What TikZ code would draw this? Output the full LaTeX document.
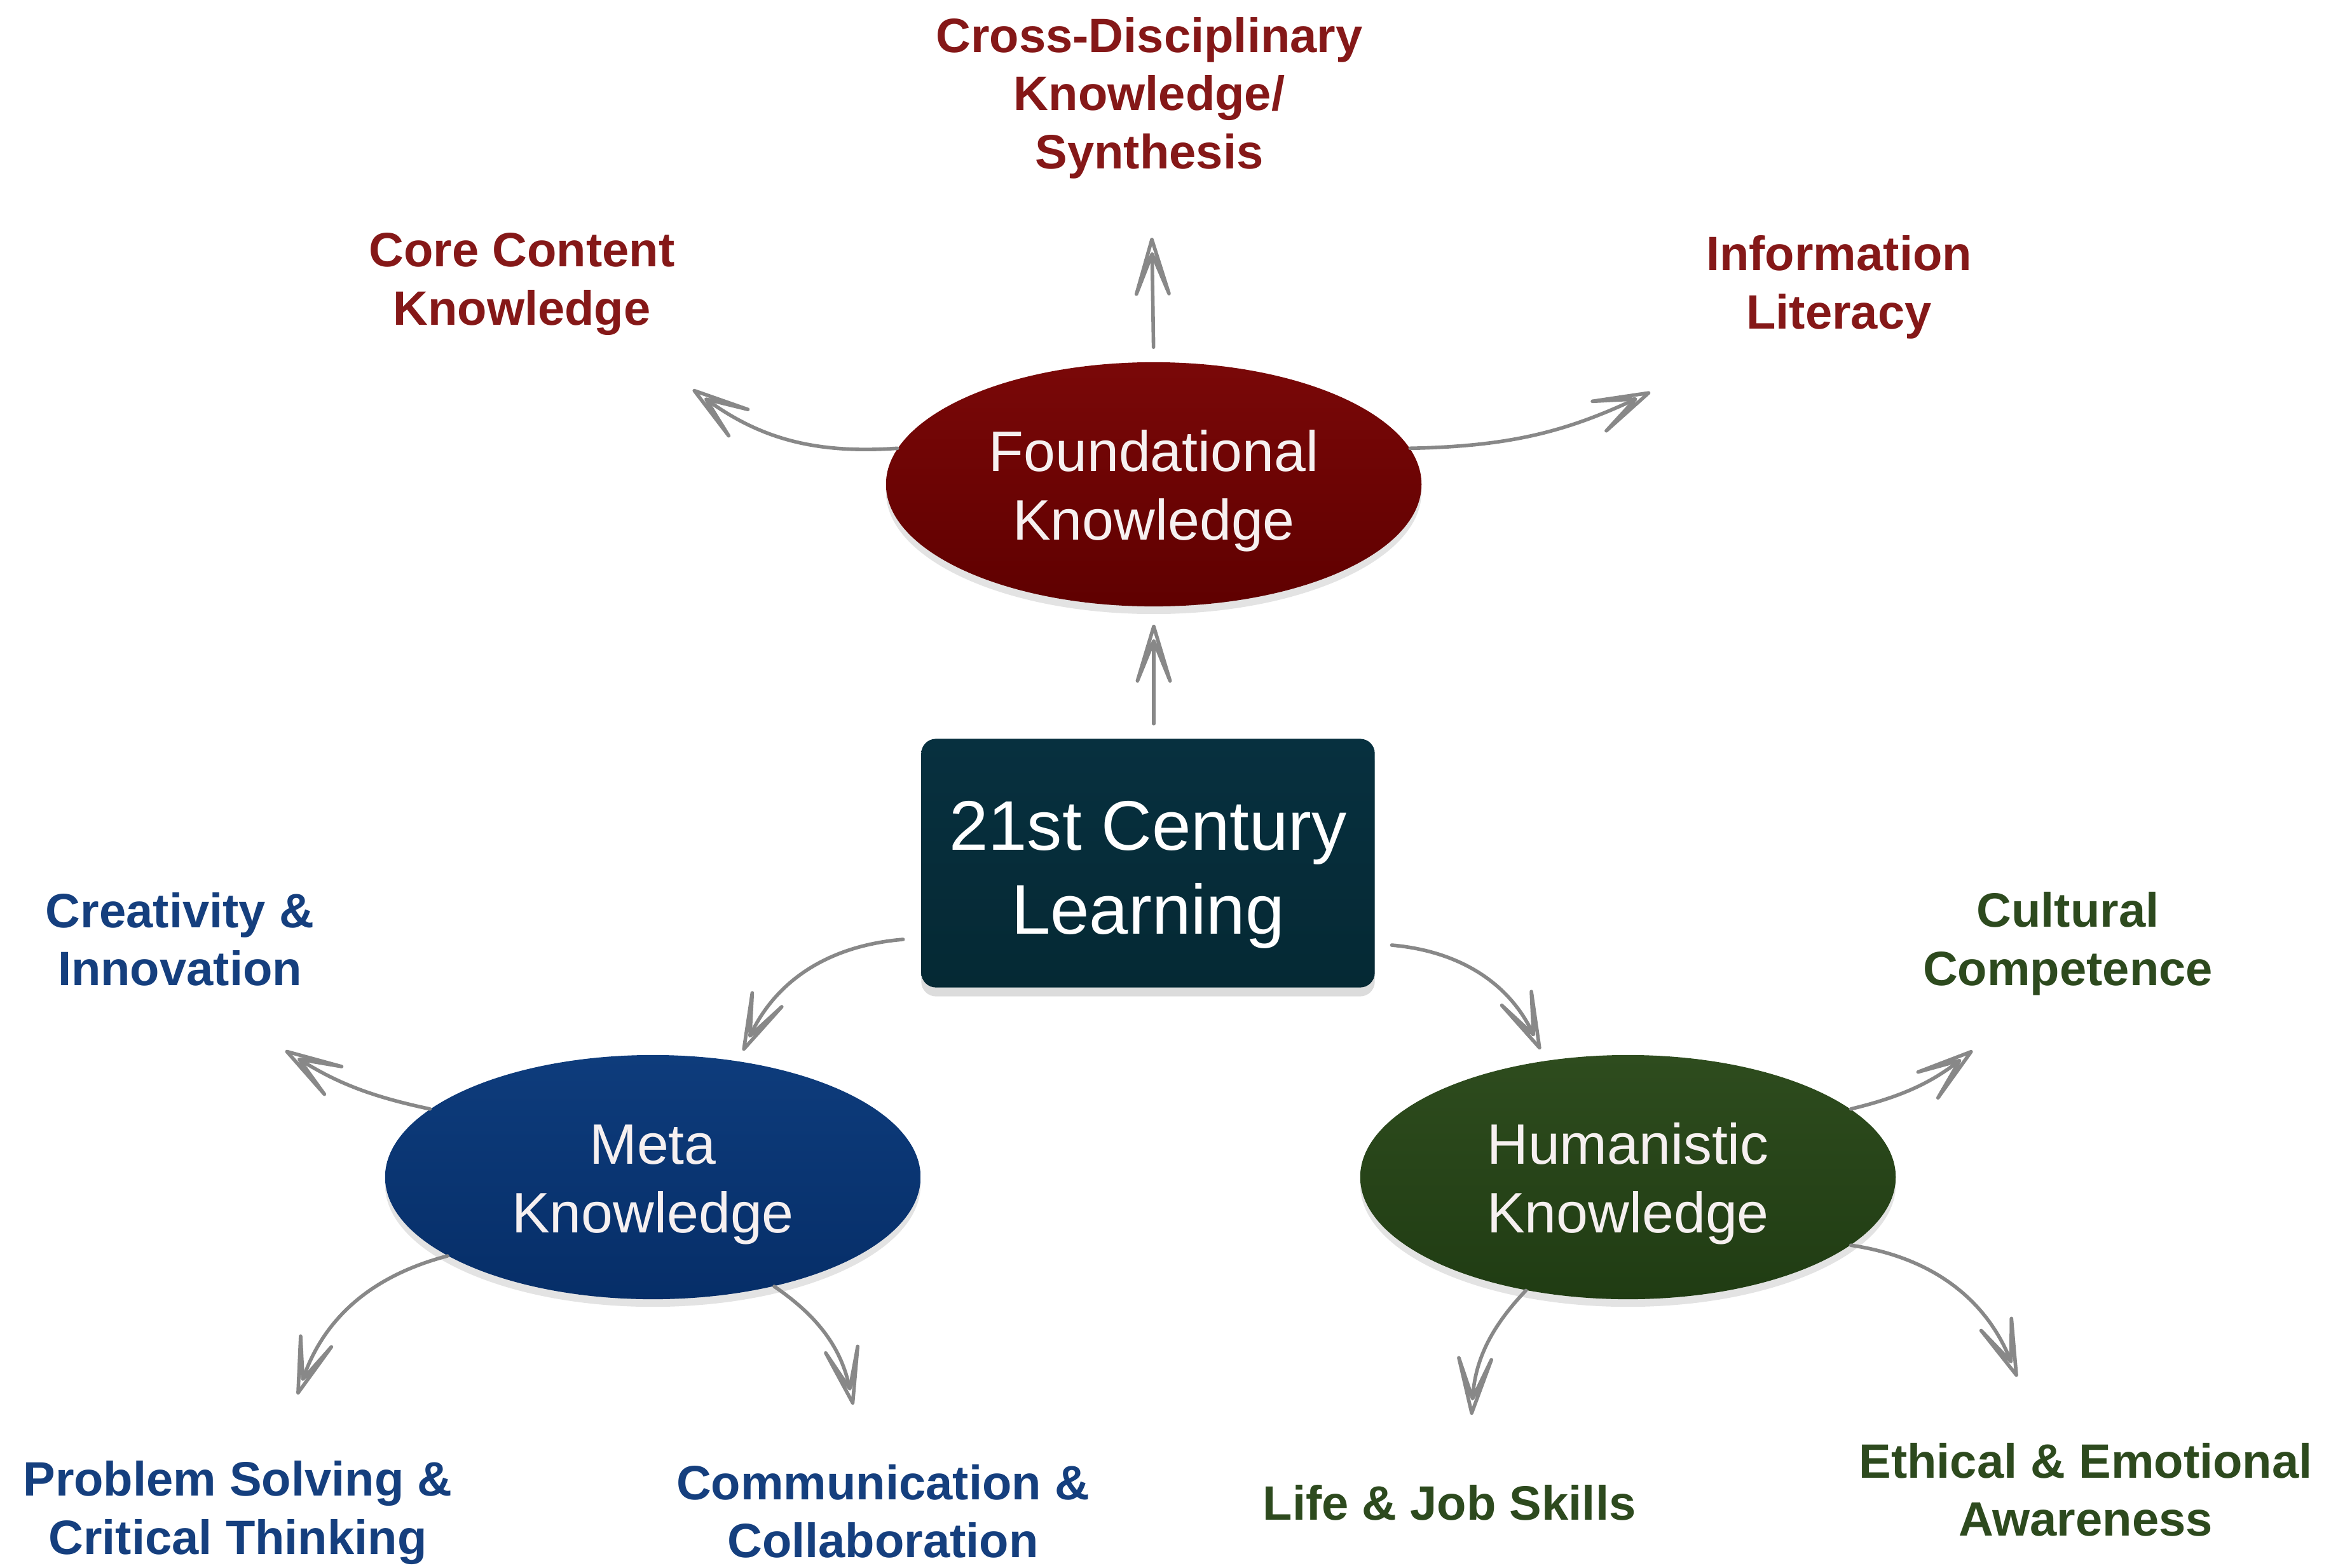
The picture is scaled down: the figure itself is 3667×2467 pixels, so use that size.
\documentclass[tikz,border=0pt]{standalone}
\usepackage{fontspec}
\setmainfont{Liberation Sans}
\usetikzlibrary{arrows.meta,shadows,calc,shapes.geometric}
\definecolor{fred}{HTML}{7A0808}
\definecolor{fredb}{HTML}{5F0000}
\definecolor{fblue}{HTML}{0E3C7C}
\definecolor{fblueb}{HTML}{062E68}
\definecolor{fgreen}{HTML}{2E4C1E}
\definecolor{fgreenb}{HTML}{203C13}
\definecolor{fbox}{HTML}{07303F}
\definecolor{fboxb}{HTML}{052934}
\definecolor{lred}{HTML}{851818}
\definecolor{lblue}{HTML}{153F7E}
\definecolor{lgreen}{HTML}{2D4A1E}
\definecolor{arrgray}{HTML}{888888}
\definecolor{etext}{HTML}{F6F0F0}
\newcommand{\twolines}[3]{\raisebox{#1}[\height][\depth]{\begin{tabular}{@{}c@{}}#2\\#3\end{tabular}}}
\begin{document}
\begin{tikzpicture}[x=0.01cm,y=-0.01cm,
  hub/.style={ellipse, inner sep=0pt, minimum width=8.42cm, minimum height=3.84cm,
    text=etext, font=\fontsize{25.5}{30.5}\selectfont,
    drop shadow={opacity=0.22, shadow xshift=0cm, shadow yshift=-0.12cm}},
  corebox/.style={rectangle, rounded corners=0.23cm, inner sep=0pt,
    minimum width=7.13cm, minimum height=3.91cm, text=white,
    top color=fbox, bottom color=fboxb,
    font=\fontsize{31.4}{37.6}\selectfont,
    drop shadow={opacity=0.28, shadow xshift=0cm, shadow yshift=-0.14cm}},
  lab/.style={align=center, inner sep=2pt, font=\bfseries\fontsize{21.6}{26}\selectfont},
  arr/.style={draw=arrgray, line width=1.6pt, line cap=round,
    -{Stealth[open, length=1.5cm, width=0.9cm, inset=1.1cm, round]}}
]
\useasboundingbox (0,0) rectangle (3667,2467);

% main nodes
\node[corebox] (box) at (1806,1358) {\twolines{-0.19cm}{21st Century}{Learning}};
\node[hub, top color=fred, bottom color=fredb] (found) at (1815,762) {\twolines{-0.12cm}{Foundational}{Knowledge}};
\node[hub, top color=fblue, bottom color=fblueb] (meta) at (1027,1852) {\twolines{-0.12cm}{Meta}{Knowledge}};
\node[hub, top color=fgreen, bottom color=fgreenb] (hum) at (2561,1852) {\twolines{-0.12cm}{Humanistic}{Knowledge}};

% labels
\node[lab, text=lred] (cross) at (1808,154) {Cross-Disciplinary\\Knowledge/\\Synthesis};
\node[lab, text=lred] (core) at (821,447) {Core Content\\Knowledge};
\node[lab, text=lred] (info) at (2893,452) {Information\\Literacy};
\node[lab, text=lblue] (crea) at (283,1478) {Creativity \&\\Innovation};
\node[lab, text=lblue] (prob) at (374,2380) {Problem Solving \&\\Critical Thinking};
\node[lab, text=lblue] (comm) at (1389,2378) {Communication \&\\Collaboration};
\node[lab, text=lgreen] (cult) at (3253,1485) {Cultural\\Competence};
\node[lab, text=lgreen] (life) at (2280,2364) {Life \& Job Skills};
\node[lab, text=lgreen] (eth) at (3281,2344) {Ethical \& Emotional\\Awareness};

% arrow tips
\coordinate (tCross) at (1812,374);
\coordinate (tCore) at (1090,613);
\coordinate (tInfo) at (2596,617);
\coordinate (tMeta) at (1169,1653);
\coordinate (tHum) at (2423,1651);
\coordinate (tCre) at (449,1653);
\coordinate (tProb) at (468,2194);
\coordinate (tComm) at (1342,2210);
\coordinate (tCult) at (3103,1653);
\coordinate (tLife) at (2315,2226);
\coordinate (tEth) at (3173,2166);

% connectors
\draw[arr, shorten <=0.23cm, shorten >=0.28cm] (box.north -| found.south) -- (found.south);
\draw[arr, shorten <=0.23cm] (found.north) -- (tCross);
\draw[arr] (found.172) to[bend left=20] (tCore);
\draw[arr] (found.8) to[bend right=12] (tInfo);
\draw[arr] ($(box.west)+(-28,120)$) to[bend right=30] (tMeta);
\draw[arr] ($(box.east)+(26,129)$) to[bend left=30] (tHum);
\draw[arr] (meta.163) to[bend left=10] (tCre);
\draw[arr] (meta.201) to[bend right=28] (tProb);
\draw[arr] (meta.318) to[bend left=22] (tComm);
\draw[arr] (hum.17) to[bend right=12] (tCult);
\draw[arr] (hum.228) to[bend right=20] (tLife);
\draw[arr] (hum.343) to[bend left=30] (tEth);
\end{tikzpicture}
\end{document}
